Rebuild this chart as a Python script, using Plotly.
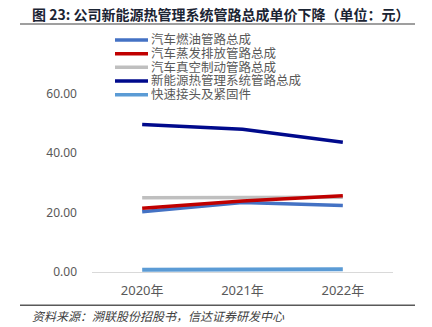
import plotly.graph_objects as go

W, H = 432, 327

categories = ["2020年", "2021年", "2022年"]
series_names = ["汽车燃油管路总成", "汽车蒸发排放管路总成", "汽车真空制动管路总成",
                "新能源热管理系统管路总成", "快速接头及紧固件"]
fuel = [20.3, 23.4, 22.4]
evap = [21.5, 23.9, 25.7]
vacuum = [25.0, 25.1, 25.2]
nev_thermal = [49.6, 48.0, 43.7]
connectors = [0.8, 0.9, 1.0]
y_ticks = [0, 20, 40, 60]
y_tick_labels = ["0.00", "20.00", "40.00", "60.00"]

values = [fuel, evap, vacuum, nev_thermal, connectors]
colors = ["#4472C4", "#C00000", "#BFBFBF", "#000A8C", "#5B9BD5"]
widths = [3.5, 3.5, 3.5, 3.5, 4]

fig = go.Figure()
order = [4, 2, 0, 1, 3]
for i in order:
    fig.add_trace(go.Scatter(x=categories, y=values[i], mode="lines", name=series_names[i],
                             line=dict(color=colors[i], width=widths[i]), showlegend=False))

def px(x):
    return x / W

def py(y):
    return 1 - y / H

fig.update_layout(
    width=W, height=H,
    margin=dict(l=0, r=0, t=0, b=0),
    paper_bgcolor="white", plot_bgcolor="white",
    xaxis=dict(domain=[px(92), px(393)], range=[-0.5, 2.5], type="category",
               showgrid=False, showline=True, linecolor="#D9D9D9", linewidth=1,
               ticks="", tickfont=dict(family="Noto Sans, Noto Sans CJK SC", size=13, color="#595959"),
               ticklabelstandoff=6),
    yaxis=dict(domain=[py(279), py(65.5)], range=[0, 70], tickvals=y_ticks, ticktext=y_tick_labels,
               showgrid=False, zeroline=False, showline=False, ticks="",
               tickfont=dict(family="Noto Sans, Noto Sans CJK SC", size=12, color="#595959"),
               ticklabelstandoff=14),
    showlegend=False,
)

shapes = []
annotations = []
for k in range(5):
    yy = 41 + 14 * k
    shapes.append(dict(type="line", xref="paper", yref="paper", x0=px(115), x1=px(148),
                       y0=py(yy), y1=py(yy), line=dict(color=colors[k], width=3.5)))
    annotations.append(dict(xref="paper", yref="paper", x=px(150), y=py(yy), xanchor="left",
                            yanchor="middle", text=series_names[k], showarrow=False,
                            borderpad=0,
                            font=dict(family="Liberation Sans, Noto Sans CJK SC", size=12.5, color="#595959")))

annotations.append(dict(xref="paper", yref="paper", x=px(30), y=py(14), xanchor="left", yanchor="middle",
                        text="<b>图 23: 公司新能源热管理系统管路总成单价下降（单位：元）</b>", showarrow=False,
                        font=dict(family="Noto Sans CJK SC", size=14, color="#1B2433")))
shapes.append(dict(type="line", xref="paper", yref="paper", x0=px(20), x1=px(415), y0=py(24.5), y1=py(24.5),
                   line=dict(color="#7F7F7F", width=1.5)))
shapes.append(dict(type="line", xref="paper", yref="paper", x0=px(20), x1=px(415), y0=py(313), y1=py(313),
                   line=dict(color="#595959", width=1.5)))
annotations.append(dict(xref="paper", yref="paper", x=px(30), y=py(323), xanchor="left", yanchor="middle",
                        text="<i>资料来源：溯联股份招股书，信达证券研发中心</i>", showarrow=False,
                        font=dict(family="Noto Sans CJK SC", size=12, color="#404040")))

fig.update_layout(shapes=shapes, annotations=annotations)
fig.write_html("out.html")
